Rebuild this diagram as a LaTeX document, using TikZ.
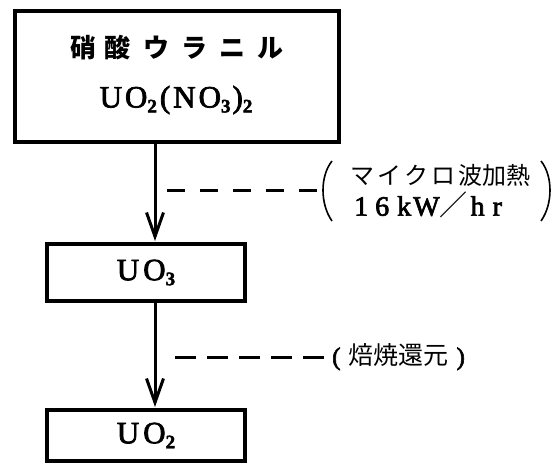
\documentclass[tikz,border=0pt]{standalone}
\usepackage{fontspec}
\setmainfont{Liberation Serif}[FakeBold=2.5]
\newfontfamily\jp{Noto Sans CJK JP}
\usetikzlibrary{arrows.meta,calc}
\newcommand\sbs[1]{\raisebox{-0.35ex}{\fontsize{19}{19}\selectfont\bfseries #1}}
\begin{document}
\begin{tikzpicture}[x=1pt,y=-1pt,
  box/.style={draw, line width=4pt, inner sep=0pt, anchor=center},
  txt/.style={inner sep=0pt, anchor=center},
  flow/.style={line width=3pt, shorten >=1pt, -{Straight Barb[length=24pt,width=17pt,line width=3pt]}},
  dashline/.style={line width=3pt},
  paren/.style={line width=1.6pt},
  lbl/.style={inner sep=0pt, anchor=west}]
\useasboundingbox (0,0) rectangle (554,469);
\node[box, minimum width=324pt, minimum height=131pt] (top) at (177,76) {};
\node[txt, font=\jp\bfseries\fontsize{26}{26}\selectfont] (t1) at (177,48)
  {硝\hspace{8pt}酸\hspace{13pt}ウ\hspace{12pt}ラ\hspace{12pt}ニ\hspace{12pt}ル};
\node[txt, font=\fontsize{31}{31}\selectfont] (t2) at (176,100)
  {U\hspace{3pt}O\sbs{2}\hspace{3pt}(\hspace{3pt}N\hspace{3pt}O\sbs{3}\hspace{2pt})\sbs{2}};
\node[box, minimum width=198pt, minimum height=57pt,
      font=\fontsize{31}{31}\selectfont] (uo3) at (146,272.5) {U\hspace{4pt}O\sbs{3}};
\node[box, minimum width=198pt, minimum height=51pt,
      font=\fontsize{31}{31}\selectfont] (uo2) at (146,435.5) {U\hspace{4pt}O\sbs{2}};
\coordinate (ax) at (155,0);
\draw[flow] (top.south -| ax) -- (uo3.north -| ax);
\draw[flow] (uo3.south -| ax) -- (uo2.north -| ax);
% label 1
\node[lbl, font=\jp\fontsize{24}{24}\selectfont] (l1a) at (350,175)
  {マ\hspace{3pt}イ\hspace{3pt}ク\hspace{3pt}ロ\hspace{3pt}波加熱};
\node[lbl, font=\fontsize{28}{28}\selectfont] (l1b) at (354,205)
  {1\hspace{7pt}6\hspace{8pt}k\hspace{2pt}W{\jp ／}\hspace{3pt}h\hspace{8pt}r};
\coordinate (pl) at (322,190);
\coordinate (pr) at (551,190);
\draw[paren] ($(pl)+(10,-29)$) .. controls ($(pl)+(-2,-14)$) and ($(pl)+(-2,14)$) .. ($(pl)+(10,31)$);
\draw[paren] ($(pr)+(-10,-29)$) .. controls ($(pr)+(2,-14)$) and ($(pr)+(2,14)$) .. ($(pr)+(-10,31)$);
\coordinate (d1) at (167,190);
\draw[dashline, dash pattern=on 18pt off 15pt] (d1) -- ($(pl)+(-5,0)$);
% label 2
\node[lbl, font=\fontsize{25}{25}\selectfont] (l2) at (332,357)
  {(\hspace{8pt}{\jp 焙焼還元}\hspace{8pt})};
\coordinate (d2) at (175,357);
\draw[dashline, dash pattern=on 21pt off 11pt] (d2) -- (l2.west);
\end{tikzpicture}
\end{document}
